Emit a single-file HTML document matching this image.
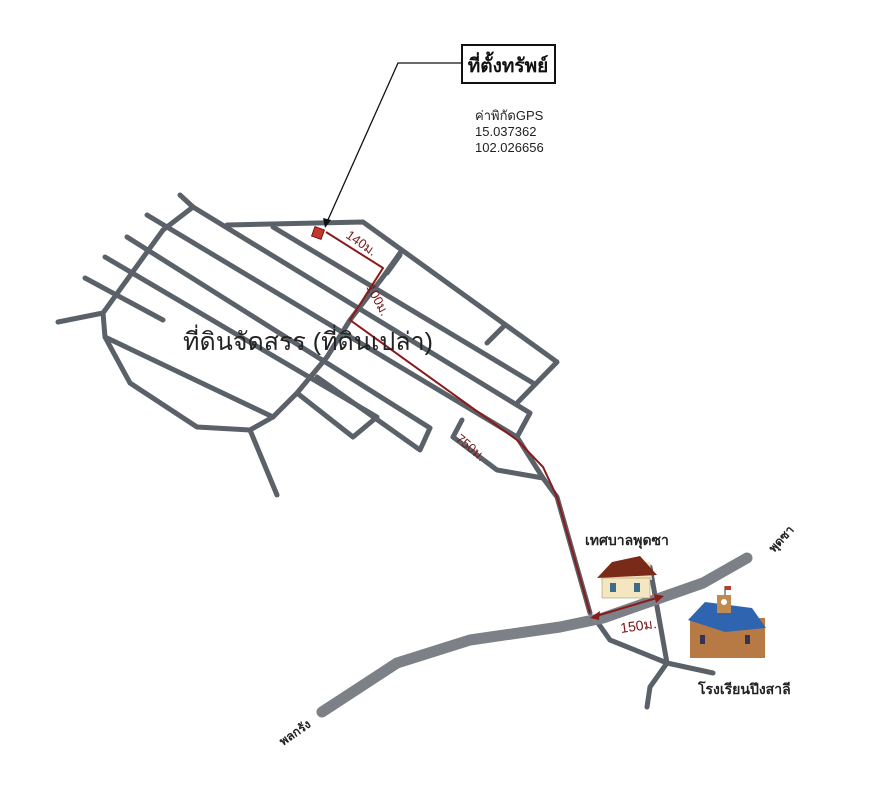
<!DOCTYPE html>
<html><head><meta charset="utf-8"><style>
html,body{margin:0;padding:0;background:#fff;}
svg{display:block;font-family:"Liberation Sans","Noto Sans CJK SC","WenQuanYi Zen Hei",sans-serif;}
</style></head><body>
<svg width="875" height="800" viewBox="0 0 875 800" xmlns="http://www.w3.org/2000/svg">
<rect width="875" height="800" fill="#fff"/>
<g stroke="#5b6169" stroke-width="5" fill="none" stroke-linecap="round" stroke-linejoin="round">
 <polyline points="180,195 193,207 163,230 103,313 105,337 130,383 197,427 250,430 273,417 297,393 327,357 350,320 383,277 400,253"/>
 <polyline points="58,322 103,313"/>
 <polyline points="250,430 277,495"/>
 <polyline points="227,225 363,222 557,362 518,402"/>
 <polyline points="273,227 533,383"/>
 <polyline points="193,207 530,413 517,437"/>
 <polyline points="147,215 517,437"/>
 <polyline points="453,437 497,470 543,478 517,437"/>
 <polyline points="462,420 453,437"/>
 <polyline points="127,237 430,428 420,450 317,377"/>
 <polyline points="105,257 377,417 353,437 297,393"/>
 <polyline points="85,278 163,320"/>
 <polyline points="105,337 273,417"/>
 <polyline points="400,255 387,273"/>
 <polyline points="503,327 487,343"/>
 <polyline points="543,478 557,497 590,613"/>
 <polyline points="598,623 610,640 667,663 713,673"/>
 <polyline points="650,567 667,663 650,687 647,707"/>
</g>
<polyline points="322,712 397,663 470,640 560,627 603,618 703,583 747,558" stroke="#7c8188" stroke-width="11" fill="none" stroke-linecap="round" stroke-linejoin="round"/>
<g stroke="#8b1a1a" stroke-width="2" fill="none">
 <polyline points="326,232 383,268 350,320 517,440 543,467 557,497 590,613"/>
 <line x1="593" y1="617" x2="660" y2="597"/>
</g>
<g fill="#8b1a1a">
 <polygon points="590,618 600,611 599,620"/>
 <polygon points="664,596 654,594 656,603"/>
</g>
<rect x="313" y="228" width="10" height="10" fill="#c0392b" stroke="#7a1010" stroke-width="1" transform="rotate(20 318 233)"/>
<polyline points="462,63 398,63 327,222" stroke="#111" stroke-width="1.3" fill="none"/>
<polygon points="325,228 323,218 331,220" fill="#111"/>
<rect x="462" y="45" width="93" height="38" fill="#fff" stroke="#111" stroke-width="2"/>
<text x="508" y="72" font-size="19" font-weight="bold" text-anchor="middle" fill="#111">ที่ตั้งทรัพย์</text>
<text x="475" y="120" font-size="13" fill="#222">ค่าพิกัดGPS</text>
<text x="475" y="136" font-size="13" fill="#222">15.037362</text>
<text x="475" y="152" font-size="13" fill="#222">102.026656</text>
<text x="183" y="350" font-size="25" fill="#222">ที่ดินจัดสรร (ที่ดินเปล่า)</text>
<g fill="#7a1818" font-size="13">
 <text x="345" y="237" transform="rotate(35 345 237)">140ม.</text>
 <text x="366" y="287" transform="rotate(62 366 287)">100ม.</text>
 <text x="455" y="440" transform="rotate(40 455 440)">750ม.</text>
 <text x="621" y="633" font-size="14" transform="rotate(-8 621 633)">150ม.</text>
</g>
<g fill="#222" font-size="14" font-weight="bold">
 <text x="585" y="545">เทศบาลพุดซา</text>
 <text x="698" y="694">โรงเรียนปึงสาลี</text>
 <text x="283" y="746" font-size="12" transform="rotate(-35 283 746)">พลกรัง</text>
 <text x="774" y="553" font-size="12" transform="rotate(-48 774 553)">พุดซา</text>
</g>
<g>
 <polygon points="600,580 618,562 650,562 652,580" fill="#f3e3b8"/>
 <polygon points="597,578 612,562 640,556 657,575" fill="#7a2a18"/>
 <rect x="602" y="578" width="48" height="20" fill="#f4e6c0" stroke="#9a8660" stroke-width="0.5"/>
 <rect x="610" y="583" width="6" height="9" fill="#3a6e8a"/>
 <rect x="634" y="583" width="6" height="9" fill="#3a6e8a"/>
</g>
<g>
 <rect x="690" y="618" width="75" height="40" fill="#b87a45"/>
 <polygon points="688,620 705,602 752,608 766,628 725,632" fill="#2e64b0"/>
 <rect x="717" y="595" width="14" height="18" fill="#c08a50"/>
 <circle cx="724" cy="602" r="3" fill="#fff"/>
 <line x1="725" y1="595" x2="725" y2="586" stroke="#333" stroke-width="1"/>
 <rect x="725" y="586" width="6" height="4" fill="#c0392b"/>
 <rect x="700" y="635" width="5" height="9" fill="#335"/>
 <rect x="745" y="635" width="5" height="9" fill="#335"/>
</g>
</svg>
</body></html>
